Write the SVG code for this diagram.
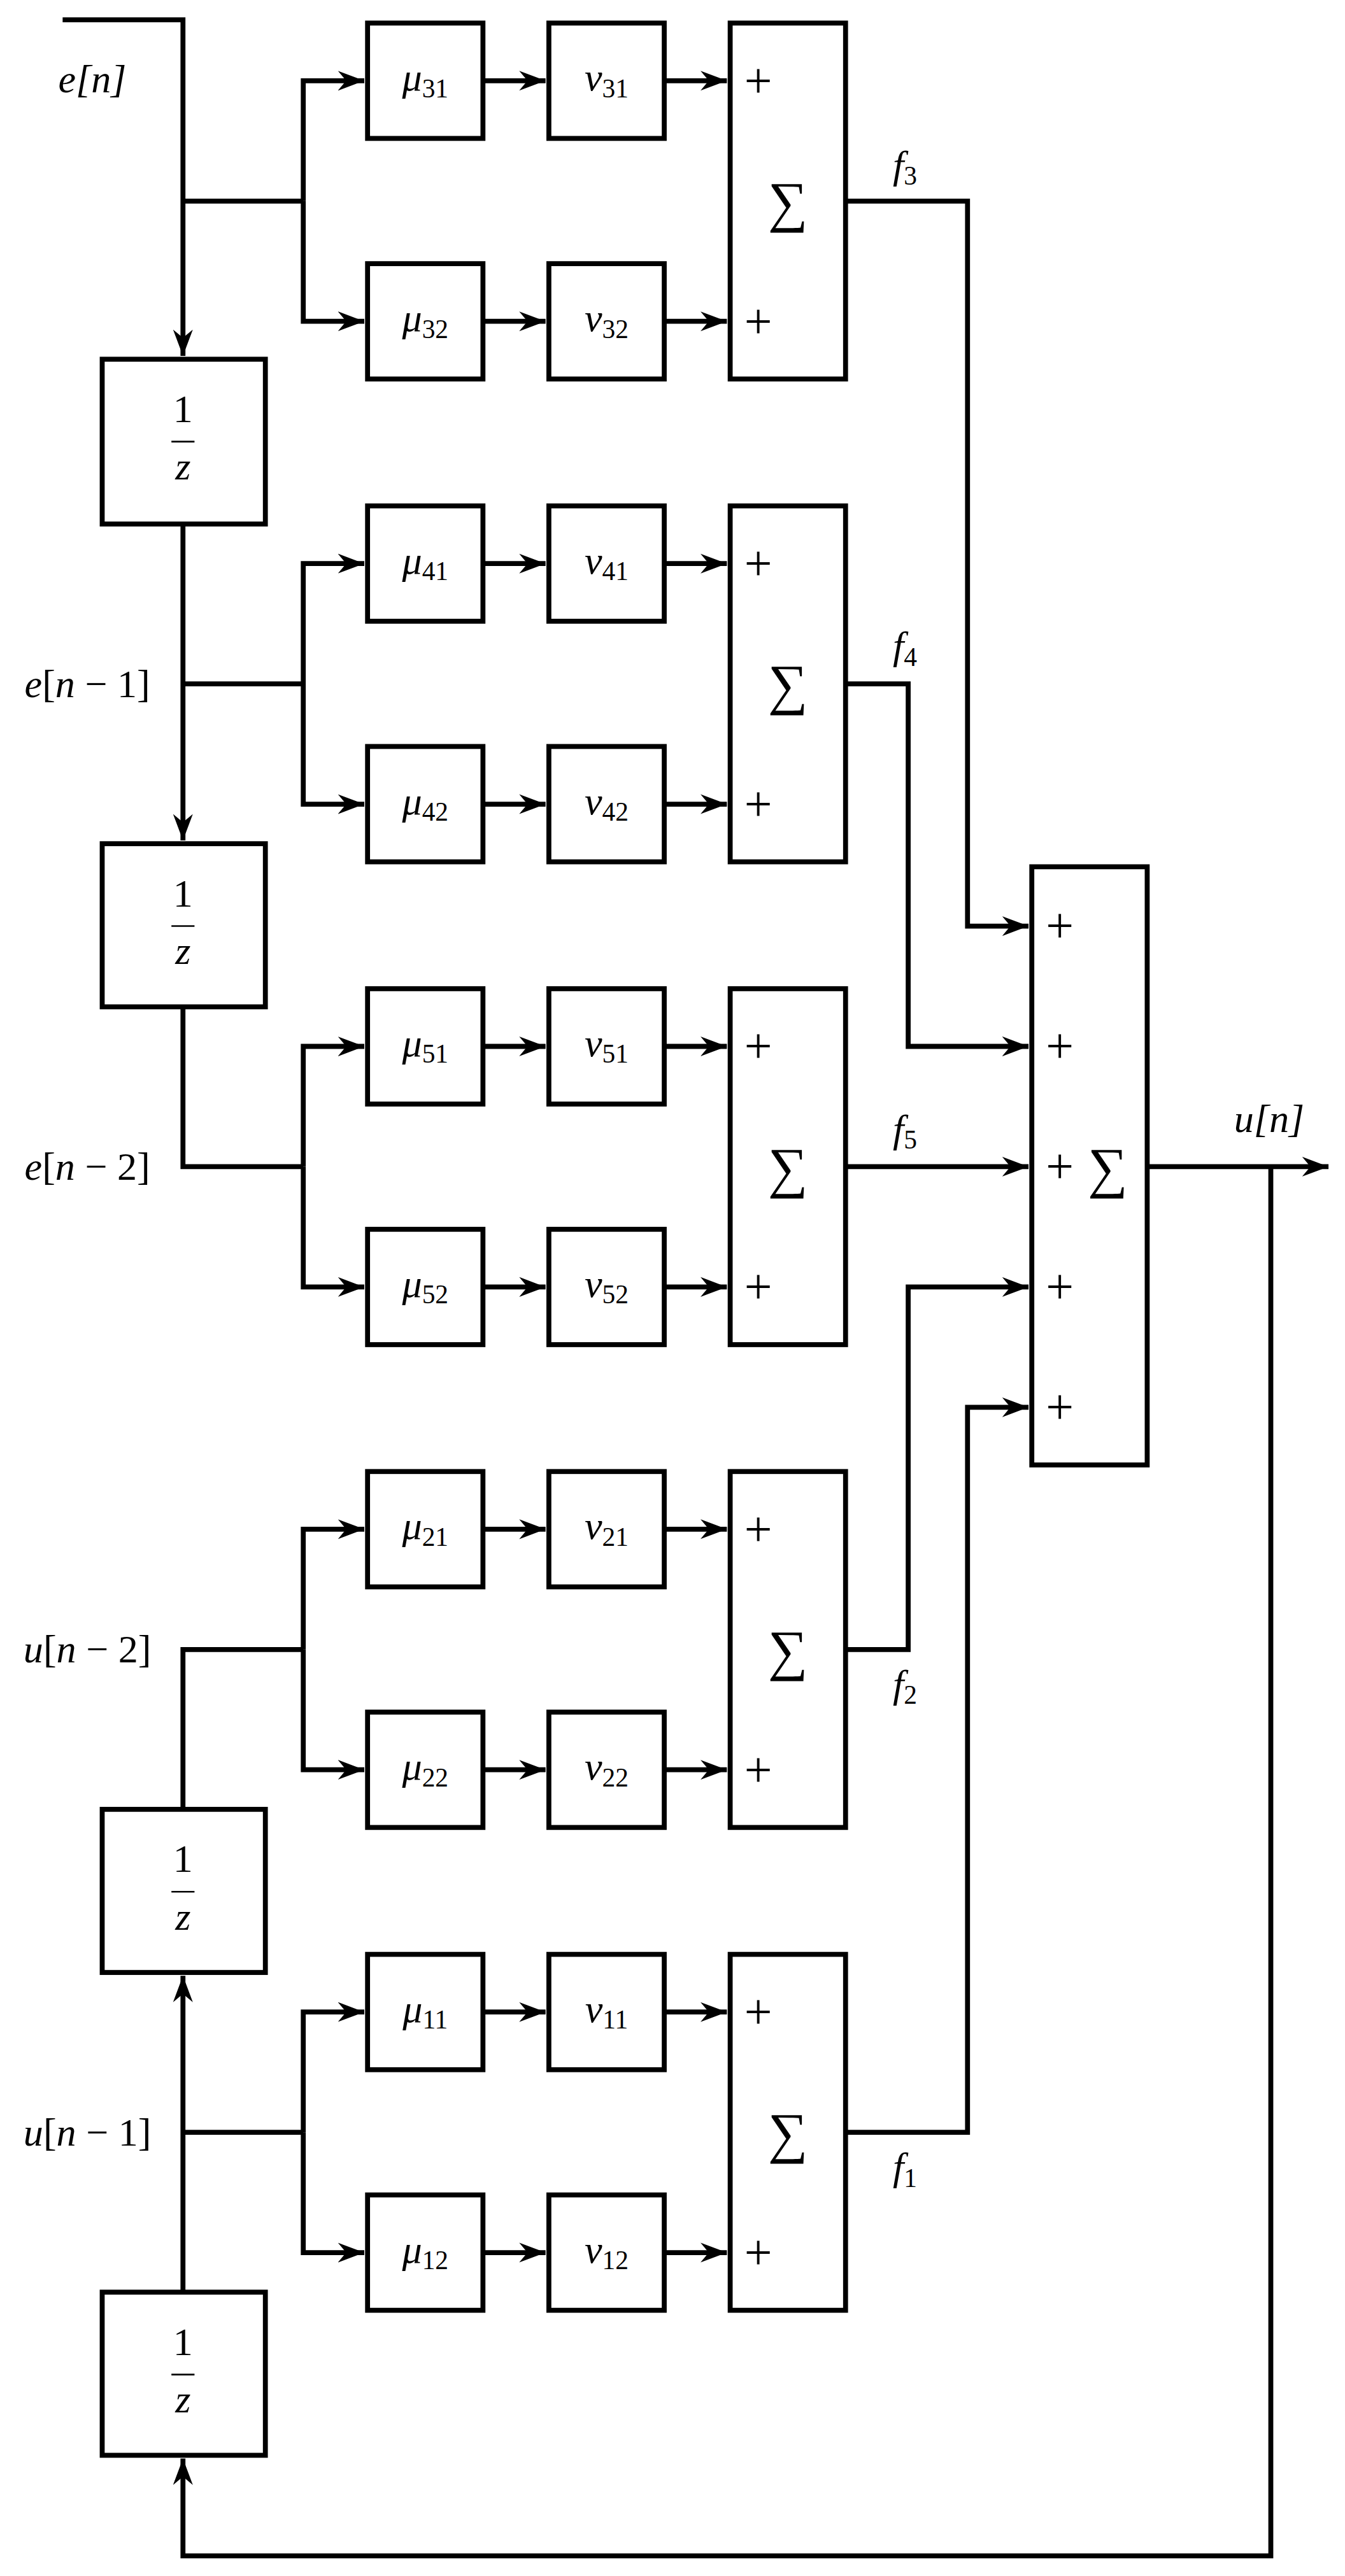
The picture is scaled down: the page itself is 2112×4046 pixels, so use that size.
<svg xmlns="http://www.w3.org/2000/svg" width="2112" height="4046" viewBox="0 0 2112 4046">
<style>
.b{fill:#fff;stroke:#000;stroke-width:3}
.w{fill:none;stroke:#000;stroke-width:3}
.fr{fill:none;stroke:#000;stroke-width:1}
.a{marker-end:url(#ar)}
text{font-family:"Liberation Serif","DejaVu Serif",serif;font-size:24px;fill:#000;text-anchor:middle}
.i{font-style:italic}
.s{font-size:16px;font-style:normal}
.p{font-size:30px}
.sig{font-size:34px}
</style>
<defs>
<marker id="ar" markerUnits="userSpaceOnUse" markerWidth="18" markerHeight="14" refX="16" refY="7" orient="auto">
<path d="M0,1 L16,7 L0,13 L5,7 Z" fill="#000"/>
</marker>
</defs>
<rect width="2112" height="4046" fill="#fff"/>
<g transform="scale(2.5882)">
<g id="connectors">
<path class="w a" d="M38,12 H111 V216"/>
<path class="w a" d="M111,318 V510"/>
<path class="w" d="M111,611 V708 H184"/>
<path class="w" d="M111,1098 V1001 H184"/>
<path class="w a" d="M111,1391 V1199"/>
<path class="w a" d="M771,708 V1551 H111 V1492"/>
<path class="w" d="M111,122 H184 M111,415 H184 M111,1294 H184"/>
<path class="w a" d="M696,708 H806"/>
<path class="w a" d="M513,122 H587 V562 H624"/>
<path class="w a" d="M513,415 H551 V635 H624"/>
<path class="w a" d="M513,708 H624"/>
<path class="w a" d="M513,1001 H551 V781 H624"/>
<path class="w a" d="M513,1294 H587 V854 H624"/>
<path class="w a" d="M184,122 V49 H221"/><path class="w a" d="M184,122 V195 H221"/>
<path class="w a" d="M293,49 H331"/><path class="w a" d="M293,195 H331"/><path class="w a" d="M403,49 H441"/><path class="w a" d="M403,195 H441"/>
<path class="w a" d="M184,415 V342 H221"/><path class="w a" d="M184,415 V488 H221"/>
<path class="w a" d="M293,342 H331"/><path class="w a" d="M293,488 H331"/><path class="w a" d="M403,342 H441"/><path class="w a" d="M403,488 H441"/>
<path class="w a" d="M184,708 V635 H221"/><path class="w a" d="M184,708 V781 H221"/>
<path class="w a" d="M293,635 H331"/><path class="w a" d="M293,781 H331"/><path class="w a" d="M403,635 H441"/><path class="w a" d="M403,781 H441"/>
<path class="w a" d="M184,1001 V928 H221"/><path class="w a" d="M184,1001 V1074 H221"/>
<path class="w a" d="M293,928 H331"/><path class="w a" d="M293,1074 H331"/><path class="w a" d="M403,928 H441"/><path class="w a" d="M403,1074 H441"/>
<path class="w a" d="M184,1294 V1221 H221"/><path class="w a" d="M184,1294 V1367 H221"/>
<path class="w a" d="M293,1221 H331"/><path class="w a" d="M293,1367 H331"/><path class="w a" d="M403,1221 H441"/><path class="w a" d="M403,1367 H441"/>
</g>
<g id="delay1"><rect class="b" x="62" y="218" width="99" height="100"/><text x="111" y="256">1</text><path class="fr" d="M104,268 H118"/><text class="i" x="111" y="291">z</text></g>
<g id="delay2"><rect class="b" x="62" y="512" width="99" height="99"/><text x="111" y="550">1</text><path class="fr" d="M104,562 H118"/><text class="i" x="111" y="585">z</text></g>
<g id="delay3"><rect class="b" x="62" y="1098" width="99" height="99"/><text x="111" y="1136">1</text><path class="fr" d="M104,1148 H118"/><text class="i" x="111" y="1171">z</text></g>
<g id="delay4"><rect class="b" x="62" y="1391" width="99" height="99"/><text x="111" y="1429">1</text><path class="fr" d="M104,1441 H118"/><text class="i" x="111" y="1464">z</text></g>

<g id="g3">
<rect class="b" x="223" y="14" width="70" height="70"/><text class="i" x="258" y="55">μ<tspan class="s" dy="4">31</tspan></text>
<rect class="b" x="333" y="14" width="70" height="70"/><text class="i" x="368" y="55">v<tspan class="s" dy="4">31</tspan></text>
<rect class="b" x="223" y="160" width="70" height="70"/><text class="i" x="258" y="201">μ<tspan class="s" dy="4">32</tspan></text>
<rect class="b" x="333" y="160" width="70" height="70"/><text class="i" x="368" y="201">v<tspan class="s" dy="4">32</tspan></text>
<rect class="b" x="443" y="14" width="70" height="216"/><text class="p" x="460" y="59">+</text><text class="p" x="460" y="205">+</text><text class="sig" x="478" y="134">∑</text>
</g>
<g id="g4">
<rect class="b" x="223" y="307" width="70" height="70"/><text class="i" x="258" y="348">μ<tspan class="s" dy="4">41</tspan></text>
<rect class="b" x="333" y="307" width="70" height="70"/><text class="i" x="368" y="348">v<tspan class="s" dy="4">41</tspan></text>
<rect class="b" x="223" y="453" width="70" height="70"/><text class="i" x="258" y="494">μ<tspan class="s" dy="4">42</tspan></text>
<rect class="b" x="333" y="453" width="70" height="70"/><text class="i" x="368" y="494">v<tspan class="s" dy="4">42</tspan></text>
<rect class="b" x="443" y="307" width="70" height="216"/><text class="p" x="460" y="352">+</text><text class="p" x="460" y="498">+</text><text class="sig" x="478" y="427">∑</text>
</g>
<g id="g5">
<rect class="b" x="223" y="600" width="70" height="70"/><text class="i" x="258" y="641">μ<tspan class="s" dy="4">51</tspan></text>
<rect class="b" x="333" y="600" width="70" height="70"/><text class="i" x="368" y="641">v<tspan class="s" dy="4">51</tspan></text>
<rect class="b" x="223" y="746" width="70" height="70"/><text class="i" x="258" y="787">μ<tspan class="s" dy="4">52</tspan></text>
<rect class="b" x="333" y="746" width="70" height="70"/><text class="i" x="368" y="787">v<tspan class="s" dy="4">52</tspan></text>
<rect class="b" x="443" y="600" width="70" height="216"/><text class="p" x="460" y="645">+</text><text class="p" x="460" y="791">+</text><text class="sig" x="478" y="720">∑</text>
</g>
<g id="g2">
<rect class="b" x="223" y="893" width="70" height="70"/><text class="i" x="258" y="934">μ<tspan class="s" dy="4">21</tspan></text>
<rect class="b" x="333" y="893" width="70" height="70"/><text class="i" x="368" y="934">v<tspan class="s" dy="4">21</tspan></text>
<rect class="b" x="223" y="1039" width="70" height="70"/><text class="i" x="258" y="1080">μ<tspan class="s" dy="4">22</tspan></text>
<rect class="b" x="333" y="1039" width="70" height="70"/><text class="i" x="368" y="1080">v<tspan class="s" dy="4">22</tspan></text>
<rect class="b" x="443" y="893" width="70" height="216"/><text class="p" x="460" y="938">+</text><text class="p" x="460" y="1084">+</text><text class="sig" x="478" y="1013">∑</text>
</g>
<g id="g1">
<rect class="b" x="223" y="1186" width="70" height="70"/><text class="i" x="258" y="1227">μ<tspan class="s" dy="4">11</tspan></text>
<rect class="b" x="333" y="1186" width="70" height="70"/><text class="i" x="368" y="1227">v<tspan class="s" dy="4">11</tspan></text>
<rect class="b" x="223" y="1332" width="70" height="70"/><text class="i" x="258" y="1373">μ<tspan class="s" dy="4">12</tspan></text>
<rect class="b" x="333" y="1332" width="70" height="70"/><text class="i" x="368" y="1373">v<tspan class="s" dy="4">12</tspan></text>
<rect class="b" x="443" y="1186" width="70" height="216"/><text class="p" x="460" y="1231">+</text><text class="p" x="460" y="1377">+</text><text class="sig" x="478" y="1306">∑</text>
</g>
<g id="sum">
<rect class="b" x="626" y="526" width="70" height="363"/>
<text class="p" x="643" y="572">+</text><text class="p" x="643" y="645">+</text><text class="p" x="643" y="718">+</text><text class="p" x="643" y="791">+</text><text class="p" x="643" y="864">+</text>
<text class="sig" x="672" y="720">∑</text>
</g>
<g id="labels">
<text class="i" x="56" y="56">e[n]</text>
<text x="53" y="423"><tspan class="i">e</tspan>[<tspan class="i">n</tspan> − 1]</text>
<text x="53" y="716"><tspan class="i">e</tspan>[<tspan class="i">n</tspan> − 2]</text>
<text x="53" y="1009"><tspan class="i">u</tspan>[<tspan class="i">n</tspan> − 2]</text>
<text x="53" y="1302"><tspan class="i">u</tspan>[<tspan class="i">n</tspan> − 1]</text>
<text class="i" x="770" y="687">u[n]</text>
<text class="i" x="549" y="108">f<tspan class="s" dy="4">3</tspan></text>
<text class="i" x="549" y="400">f<tspan class="s" dy="4">4</tspan></text>
<text class="i" x="549" y="693">f<tspan class="s" dy="4">5</tspan></text>
<text class="i" x="549" y="1030">f<tspan class="s" dy="4">2</tspan></text>
<text class="i" x="549" y="1323">f<tspan class="s" dy="4">1</tspan></text>
</g>
</g>
</svg>
